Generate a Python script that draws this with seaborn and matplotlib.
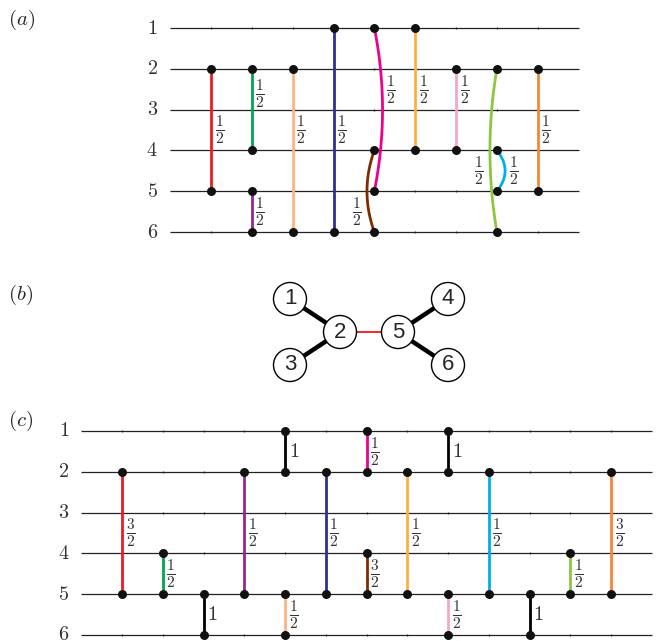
import numpy as np
import pandas as pd
import matplotlib
matplotlib.use("Agg")
import matplotlib.pyplot as plt
import seaborn as sns
from matplotlib.patches import Circle

# ---- panel (a): gates ----
a_cols = [1, 2, 2, 3, 4, 5, 5, 6, 7, 8, 8, 9]
a_top = [2, 2, 5, 2, 1, 1, 4, 1, 2, 2, 4, 2]
a_bot = [5, 4, 6, 6, 6, 5, 6, 4, 4, 6, 5, 5]
a_colors = ["#ed1c24", "#00a651", "#92278f", "#fbb482", "#2e3192", "#ec008c",
            "#7b2e00", "#fbb040", "#f4a7c8", "#8dc63f", "#00aeef", "#f58634"]
a_labels = ["1/2"] * 12
a_label_row = [3.5, 2.6, 5.5, 3.5, 3.5, 2.5, 5.5, 2.5, 2.5, 4.5, 4.5, 3.5]
a_label_side = ["r", "r", "r", "r", "r", "r", "l", "r", "r", "l", "r", "r"]
a_bend = [0, 0, 0, 0, 0, 0.2, -0.18, 0, 0, -0.17, 0.2, 0]

# ---- panel (b): interaction graph ----
b_nodes = [1, 2, 3, 4, 5, 6]
b_x = [-1.0, 0.0, -1.0, 2.16, 1.16, 2.16]
b_y = [0.66, 0.0, -0.66, 0.66, 0.0, -0.66]
b_edges = [(1, 2), (3, 2), (2, 5), (5, 4), (5, 6)]
b_edge_colors = ["black", "black", "red", "black", "black"]

# ---- panel (c): gates ----
c_cols = [1, 2, 3, 4, 5, 5, 6, 7, 7, 8, 9, 9, 10, 11, 12, 13]
c_top = [2, 4, 5, 2, 1, 5, 2, 1, 4, 2, 1, 5, 2, 5, 4, 2]
c_bot = [5, 5, 6, 5, 2, 6, 5, 2, 5, 5, 2, 6, 5, 6, 5, 5]
c_colors = ["#ed1c24", "#00a651", "black", "#92278f", "black", "#fbb482",
            "#2e3192", "#ec008c", "#7b2e00", "#fbb040", "black", "#f4a7c8",
            "#00aeef", "black", "#8dc63f", "#f58634"]
c_labels = ["3/2", "1/2", "1", "1/2", "1", "1/2", "1/2", "1/2", "3/2", "1/2",
            "1", "1/2", "1/2", "1", "1/2", "3/2"]

wires = [1, 2, 3, 4, 5, 6]

sns.set_theme(style="white")
plt.rcParams["mathtext.fontset"] = "cm"
plt.rcParams["font.family"] = ["Liberation Sans", "DejaVu Sans"]

W, H = 662, 641
fig = plt.figure(figsize=(W / 100, H / 100), dpi=100)


def add_ax(px_left, px_top, px_w, px_h):
    ax = fig.add_axes([px_left / W, 1 - (px_top + px_h) / H, px_w / W, px_h / H])
    ax.set_axis_off()
    return ax


def tex(lbl):
    if "/" in lbl:
        n, d = lbl.split("/")
        return r"$\frac{%s}{%s}$" % (n, d), 16
    return r"$%s$" % lbl, 14.5


def draw_circuit(ax, n_gate_cols, cols, tops, bots, colors, labels,
                 label_rows=None, sides=None, bends=None):
    n = len(cols)
    label_rows = label_rows or [(t + b) / 2 for t, b in zip(tops, bots)]
    sides = sides or ["r"] * n
    bends = bends or [0] * n
    # wires and small column ticks
    ax.hlines(wires, 0, n_gate_cols + 1, color="#222222", lw=0.9, zorder=1)
    gx, gy = np.meshgrid(np.arange(1, n_gate_cols + 1), wires)
    ax.scatter(gx.ravel(), gy.ravel(), s=2, color="#222222", lw=0, zorder=1)
    for w in wires:
        ax.text(-0.3, w, r"$%d$" % w, ha="right", va="center", fontsize=14.5,
                color="#333333", clip_on=False)
    dots = []
    for c, t, b, col, lbl, lr, sd, bd in zip(cols, tops, bots, colors, labels,
                                             label_rows, sides, bends):
        yy = np.linspace(t, b, 80)
        mid, half = (t + b) / 2, (b - t) / 2
        xx = c + bd * (1 - ((yy - mid) / half) ** 2)
        ax.plot(xx, yy, color=col, lw=2.0, solid_capstyle="butt", zorder=2)
        xl = c + bd * (1 - ((lr - mid) / half) ** 2)
        s, fs = tex(lbl)
        if sd == "r":
            ax.text(xl + 0.09, lr, s, ha="left", va="center", fontsize=fs,
                    color="#333333")
        else:
            ax.text(xl - 0.17, lr, s, ha="right", va="center", fontsize=fs,
                    color="#333333")
        dots += [(c, t), (c, b)]
    df = pd.DataFrame(dots, columns=["col", "row"])
    sns.scatterplot(data=df, x="col", y="row", color="#111111", s=42,
                    linewidth=0, ax=ax, zorder=3, legend=False)
    ax.set_xlim(-1, n_gate_cols + 2)
    ax.set_ylim(6.5, 0.5)
    ax.set_axis_off()


# panel (a)
sp = 40.85
ax_a = add_ax(170.1 - sp, 28 - 0.5 * 40.8, sp * 12, 40.8 * 6)
draw_circuit(ax_a, 9, a_cols, a_top, a_bot, a_colors, a_labels,
             a_label_row, a_label_side, a_bend)

# panel (c)
sp = 40.75
ax_c = add_ax(81.25 - sp, 431 - 0.5 * 40.8, sp * 16, 40.8 * 6)
draw_circuit(ax_c, 13, c_cols, c_top, c_bot, c_colors, c_labels)

# panel (b)
u = 50.0
ax_b = add_ax(340 - 3 * u, 332 - 1.5 * u, 7 * u, 3 * u)
ax_b.set_xlim(-3, 4)
ax_b.set_ylim(-1.5, 1.5)
pos = {n: (x, y) for n, x, y in zip(b_nodes, b_x, b_y)}
for (p, q), ec in zip(b_edges, b_edge_colors):
    ax_b.plot([pos[p][0], pos[q][0]], [pos[p][1], pos[q][1]], color=ec,
              lw=3.2 if ec == "black" else 1.2, zorder=1)
for n in b_nodes:
    ax_b.add_patch(Circle(pos[n], 0.33, facecolor="white", edgecolor="black",
                          lw=1.0, zorder=2))
    ax_b.text(pos[n][0], pos[n][1], str(n), ha="center", va="center",
              fontsize=16, zorder=3)

# panel tags
for tag, py in [("a", 20), ("b", 295), ("c", 421)]:
    fig.text(8 / W, 1 - py / H, r"$(%s)$" % tag, ha="left", va="center",
             fontsize=15)

fig.savefig("out.png", dpi=100)
